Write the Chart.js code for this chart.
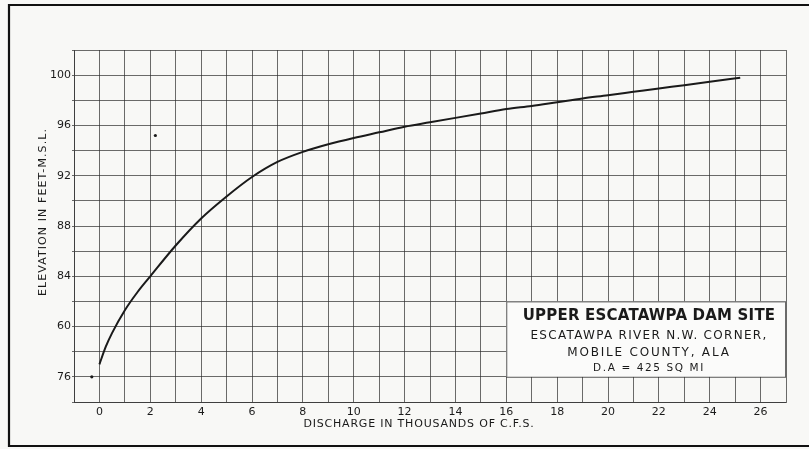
<!DOCTYPE html>
<html>
<head>
<meta charset="utf-8">
<script src="https://cdn.jsdelivr.net/npm/chart.js@4/dist/chart.umd.min.js"></script>
<style>
  body { margin: 0; background: #f8f8f6; }
  canvas { display: block; }
</style>
</head>
<body>
<canvas id="rating" width="809" height="449"></canvas>
<script>
// Rating curve data
const dischargeK = [0, 0.25, 0.5, 1, 1.5, 2, 3, 4, 5, 6, 7, 8, 9, 10, 11, 12, 13, 14, 15, 16, 17, 18, 19, 20, 21, 22, 23, 24, 25.2];
const elevationFt = [77.0, 78.4, 79.5, 81.3, 82.75, 84.0, 86.45, 88.6, 90.35, 91.9, 93.1, 93.9, 94.5, 95.0, 95.45, 95.9, 96.25, 96.6, 96.95, 97.3, 97.55, 97.85, 98.15, 98.4, 98.67, 98.94, 99.2, 99.47, 99.8];

// stray marks on the sheet
const strayX = [2.2, -0.3];
const strayY = [95.2, 76.0];

// tick labels (the 80 line is lettered "60" on the original)
const xTickValues = [0, 2, 4, 6, 8, 10, 12, 14, 16, 18, 20, 22, 24, 26];
const yTickValues = [76, 80, 84, 88, 92, 96, 100];
const yTickText = ['76', '60', '84', '88', '92', '96', '100'];

const xTitle = 'DISCHARGE IN THOUSANDS OF C.F.S.';
const yTitle = 'ELEVATION IN FEET-M.S.L.';
const infoLines = ['UPPER ESCATAWPA DAM SITE', 'ESCATAWPA RIVER N.W. CORNER,', 'MOBILE COUNTY, ALA', 'D.A = 425 SQ MI'];

const FONT = '"DejaVu Sans", sans-serif';
const INK = '#1a1a1a';
const GRID = 'rgba(45,45,45,0.7)';

// background, outer frame, axis titles and the title block
const sheetPlugin = {
  id: 'sheet',
  beforeDraw(chart) {
    const ctx = chart.ctx;
    ctx.save();
    ctx.fillStyle = '#f8f8f6';
    ctx.fillRect(0, 0, chart.width, chart.height);
    ctx.strokeStyle = '#111';
    ctx.lineWidth = 2.2;
    ctx.beginPath();
    ctx.moveTo(chart.width, 5);
    ctx.lineTo(9, 5);
    ctx.lineTo(9, 446);
    ctx.lineTo(chart.width, 446);
    ctx.stroke();

    // axis titles
    ctx.fillStyle = INK;
    ctx.textAlign = 'center';
    ctx.textBaseline = 'middle';
    ctx.font = '11px ' + FONT;
    ctx.letterSpacing = '0.8px';
    ctx.fillText(xTitle, 419, 424);
    ctx.translate(43, 212);
    ctx.rotate(-Math.PI / 2);
    ctx.letterSpacing = '1.1px';
    ctx.fillText(yTitle, 0, 0);
    ctx.restore();
  },
  afterDatasetsDraw(chart) {
    const ctx = chart.ctx;
    const xs = chart.scales.x, ys = chart.scales.y;
    const left = xs.getPixelForValue(16), right = xs.getPixelForValue(27);
    const top = ys.getPixelForValue(82), bottom = ys.getPixelForValue(76);
    ctx.save();
    ctx.fillStyle = '#fbfbfa';
    ctx.fillRect(left, top, right - left, bottom - top);
    ctx.strokeStyle = GRID;
    ctx.lineWidth = 1;
    ctx.strokeRect(left + 0.5, top + 0.5, right - left - 1, bottom - top);
    ctx.fillStyle = INK;
    ctx.textAlign = 'center';
    ctx.textBaseline = 'middle';
    const cx = 649;
    ctx.font = 'bold 15px ' + FONT;
    ctx.letterSpacing = '0.2px';
    ctx.fillText(infoLines[0], cx, top + 15);
    ctx.font = '12px ' + FONT;
    ctx.letterSpacing = '1.3px';
    ctx.fillText(infoLines[1], cx, top + 34);
    ctx.letterSpacing = '1.8px';
    ctx.fillText(infoLines[2], cx, top + 51);
    ctx.font = '10.5px ' + FONT;
    ctx.letterSpacing = '1.6px';
    ctx.fillText(infoLines[3], cx, top + 67);
    ctx.restore();
  }
};

new Chart(document.getElementById('rating'), {
  type: 'scatter',
  data: {
    datasets: [
      {
        label: 'Rating curve',
        data: dischargeK.map((x, i) => ({ x: x, y: elevationFt[i] })),
        showLine: true,
        borderColor: INK,
        borderWidth: 2,
        pointRadius: 0,
        cubicInterpolationMode: 'monotone'
      },
      {
        label: 'Stray',
        data: strayX.map((x, i) => ({ x: x, y: strayY[i] })),
        pointRadius: 1.6,
        backgroundColor: INK,
        borderWidth: 0
      }
    ]
  },
  options: {
    responsive: false,
    animation: false,
    layout: { padding: { top: 50, right: 23, left: 0, bottom: 0 } },
    plugins: { legend: { display: false }, tooltip: { enabled: false } },
    scales: {
      x: {
        type: 'linear',
        min: -1,
        max: 27,
        afterFit(scale) { scale.height = 47; },
        afterBuildTicks(scale) {
          scale.ticks = [];
          for (let v = -1; v <= 27; v++) scale.ticks.push({ value: v });
        },
        grid: { color: GRID, lineWidth: 1, drawTicks: false },
        border: { color: GRID, width: 1 },
        ticks: {
          padding: 4,
          maxRotation: 0,
          autoSkip: false,
          color: INK,
          font: { family: FONT, size: 11 },
          callback: v => xTickValues.includes(v) ? String(v) : ''
        }
      },
      y: {
        type: 'linear',
        min: 74,
        max: 102,
        afterFit(scale) { scale.width = 74; },
        afterBuildTicks(scale) {
          scale.ticks = [];
          for (let v = 74; v <= 102; v += 2) scale.ticks.push({ value: v });
        },
        grid: { color: GRID, lineWidth: 1, drawTicks: true, tickLength: 2 },
        border: { color: GRID, width: 1 },
        ticks: {
          padding: 1,
          autoSkip: false,
          color: INK,
          font: { family: FONT, size: 11 },
          callback: v => {
            const i = yTickValues.indexOf(v);
            return i >= 0 ? yTickText[i] : '';
          }
        }
      }
    }
  },
  plugins: [sheetPlugin]
});
</script>
</body>
</html>
